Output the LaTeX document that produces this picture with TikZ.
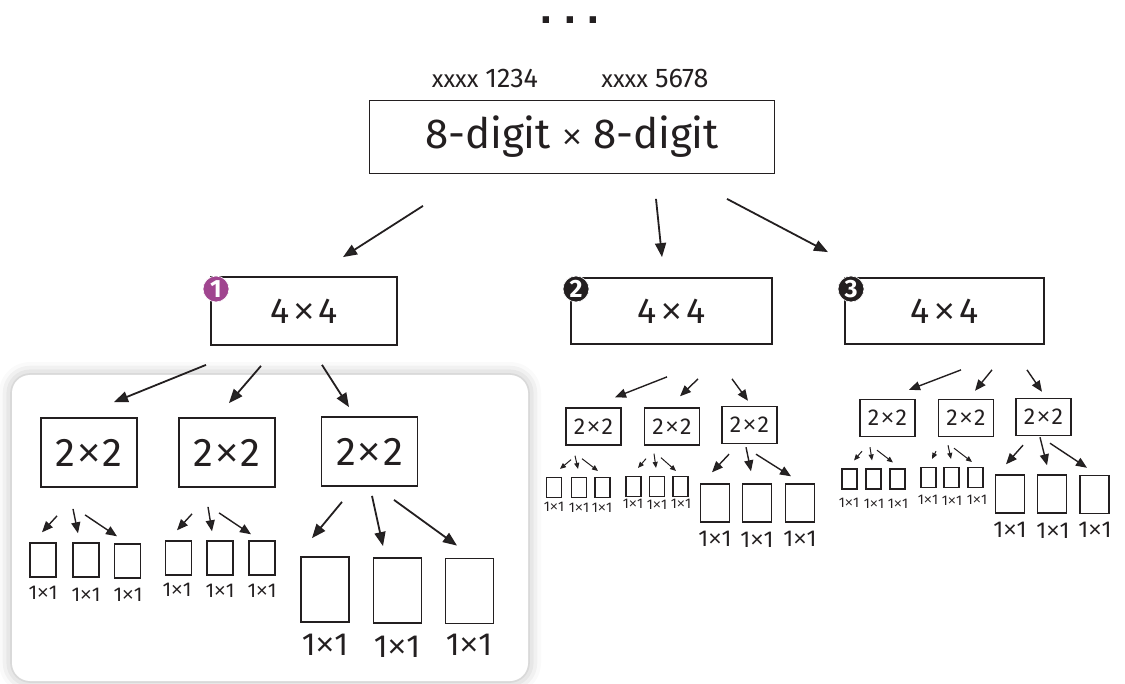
\documentclass[tikz,border=0pt]{standalone}
\usepackage{fontspec}
\setmainfont{Fira Sans}
\newfontfamily\dotfont{DejaVu Sans}
\newfontfamily\symfont{Liberation Sans}
\usetikzlibrary{arrows.meta,shadows.blur}
\definecolor{ink}{HTML}{231F20}
\definecolor{plum}{HTML}{A0458F}
\newcommand{\by}{{\symfont ×}}

\begin{document}
\begin{tikzpicture}
    [x=1pt,y=-1pt,color=ink,
     box/.style={draw, line width=1.8pt, inner sep=0pt},
     sbox/.style={draw, line width=1.4pt, inner sep=0pt},
     tbox/.style={draw, line width=1.1pt, inner sep=0pt},
     arr/.style={line width=1.8pt, -{Triangle[length=14pt,width=11pt]}},
     marr/.style={line width=1.4pt, -{Triangle[length=11pt,width=9pt]}},
     sarr/.style={line width=1pt, -{Triangle[length=6pt,width=5pt]}},
     badge/.style={circle, draw=white, line width=0.6pt, inner sep=0pt, minimum size=26pt, text=white, font=\bfseries\fontsize{25}{25}\selectfont}]
  \useasboundingbox (0,0) rectangle (1125,684);

  % panel behind the first sub-problem
  \fill[white, rounded corners=18pt, blur shadow={shadow xshift=0pt, shadow yshift=0pt, shadow blur radius=13pt, shadow opacity=30}] (12,375) rectangle (528,681);

  \node[anchor=base, inner sep=0pt, text height=8pt, text depth=0pt, font=\dotfont\bfseries\fontsize{36}{36}\selectfont] (dots) at (570,24) {.\hspace{10pt}.\hspace{10pt}.};
  \node[font=\fontsize{27}{27}\selectfont] (na) at (485,78) {{\fontsize{24}{24}\selectfont xxxx}\hspace{7pt}1234};
  \node[font=\fontsize{27}{27}\selectfont] (nb) at (655,78) {{\fontsize{24}{24}\selectfont xxxx}\hspace{7pt}5678};
  \node[box, minimum width=405pt, minimum height=73pt, font=\fontsize{42}{42}\selectfont] (top) at (572,137) {8-digit {\fontsize{34}{34}\selectfont\by} 8-digit};

  % 4x4
  \node[box, minimum width=186pt, minimum height=68pt, font=\fontsize{36}{36}\selectfont] (b1) at (304,311) {4\hspace{4pt}\by\hspace{4pt}4};
  \node[box, minimum width=201pt, minimum height=66pt, font=\fontsize{36}{36}\selectfont] (b2) at (671.5,311) {4\hspace{4pt}\by\hspace{4pt}4};
  \node[box, minimum width=199pt, minimum height=66pt, font=\fontsize{36}{36}\selectfont] (b3) at (944.5,311) {4\hspace{4pt}\by\hspace{4pt}4};
  \node[badge, fill=plum] (c1) at (216,289) {1};
  \node[badge, fill=ink] (c2) at (576,289) {2};
  \node[badge, fill=ink] (c3) at (851,289) {3};

  % 2x2
  \foreach \n/\x/\y in {L1/89/452.5, L2/227/452.5, L3/369.5/451.5}
    \node[box, minimum width=96pt, minimum height=69pt, font=\fontsize{40}{40}\selectfont] (\n) at (\x,\y) {2\hspace{2pt}\by\hspace{2pt}2};
  \foreach \n/\x/\y in {M1/593.5/426.5, M2/672/426.5, M3/749.5/425, R1/887.5/418, R2/966/418, R3/1043.5/417}
    \node[sbox, minimum width=55pt, minimum height=37pt, font=\fontsize{23}{23}\selectfont] (\n) at (\x,\y) {2\hspace{1.5pt}\by\hspace{1.5pt}2};

  % 1x1
  \foreach \n/\x/\y in {s11/43/560, s12/86/560, s13/127.5/561, s21/178.5/558, s22/220/558, s23/262/558}
    \node[sbox, minimum width=26pt, minimum height=34pt] (\n) at (\x,\y) {};
  \foreach \n/\x/\y in {s31/325/589.5, s32/397.5/590.5, s33/469.5/591}
    \node[box, minimum width=48pt, minimum height=65pt] (\n) at (\x,\y) {};
  \foreach \n/\x/\y in {m11/554/487.5, m12/579/487.5, m13/602.5/487.5, m21/633.5/486.5, m22/657/486.5, m23/680.5/486.5, r11/849.5/479, r12/873.5/479, r13/897.5/479, r21/928.5/477.5, r22/951.5/477.5, r23/975.5/477.5}
    \node[tbox, minimum width=15pt, minimum height=20pt] (\n) at (\x,\y) {};
  \foreach \n/\x/\y in {m31/715/503, m32/757/503, m33/800/503, r31/1010/494, r32/1052/494, r33/1094.5/494.5}
    \node[sbox, minimum width=29pt, minimum height=38pt] (\n) at (\x,\y) {};

  % labels under the 1x1 boxes
  \foreach \n/\x/\y in {t11/43/593, t12/86/595, t13/128/595, t21/177/590, t22/220/591, t23/262/591}
    \node[font=\fontsize{20}{20}\selectfont] (\n) at (\x,\y) {1\by1};
  \foreach \n/\x/\y in {t31/325/645, t32/397/647, t33/469/645}
    \node[font=\fontsize{32}{32}\selectfont] (\n) at (\x,\y) {1\by1};
  \foreach \n/\x/\y in {u11/554/507, u12/579/508, u13/602/508, u21/633/504, u22/657/505, u23/681/504, v11/849/503, v12/874/504, v13/898/504, v21/928/500, v22/952/501, v23/977/500}
    \node[font=\fontsize{14}{14}\selectfont] (\n) at (\x,\y) {1\by1};
  \foreach \n/\x/\y in {u31/715/539, u32/757/540, u33/800/539, v31/1010/530, v32/1053/531, v33/1095/530}
    \node[font=\fontsize{23}{23}\selectfont] (\n) at (\x,\y) {1\by1};

  % arrows: parent.south + shift  ->  child.north + shift
  \foreach \p/\c/\a/\b/\u/\v in {top/b1/-149/31.5/39/-19, top/b2/84/24.5/-9.5/-20, top/b3/155/24.5/-116.5/-25,
      b1/L1/-98/19/25/-15, b1/L2/-43/20/2/-14, b1/L3/18/19/-20.5/-9,
      L3/s31/-27.5/15/-13/-18, L3/s32/2.5/9/-14.5/-11, L3/s33/24.5/13/-12.5/-12}
    \draw[arr] ([shift={(\a,\b)}]\p.south) -- ([shift={(\u,\v)}]\c.north);
  \foreach \p/\c/\a/\b/\u/\v in {L1/s11/-32/28/-1/-10, L1/s12/-16/21/-8/-9, L1/s13/-4/27/-10.5/-7,
      L2/s21/-35/26/-1.5/-10, L2/s22/-19/19/-8/-9, L2/s23/-8/25/-11/-6,
      b2/M1/-4.5/32/21.5/-10, b2/M2/26.5/34/8/-11, b2/M3/60.5/34/-1.5/-5,
      b3/R1/16.5/25/21.5/-9, b3/R2/47.5/25/9/-8, b3/R3/82.5/25/-1.5/-6,
      M3/m31/-20.5/10/-3/-11, M3/m32/-3.5/3/-6/-12, M3/m33/6.5/10/-9/-7,
      R3/r31/-20.5/9/-4/-10, R3/r32/-3.5/1/-5/-9, R3/r33/6.5/7/-7.5/-7}
    \draw[marr] ([shift={(\a,\b)}]\p.south) -- ([shift={(\u,\v)}]\c.north);
  \foreach \p/\c/\a/\b/\u/\v in {M1/m11/-22.5/14/6/-8, M1/m12/-18.5/10/-1/-8, M1/m13/-11.5/13/-4.5/-6,
      M2/m21/-26/13/4.5/-8, M2/m22/-18/8/-1/-8, M2/m23/-11/12/-4.5/-5,
      R1/r11/-25.5/14/4.5/-8, R1/r12/-17.5/10/-1.5/-8, R1/r13/-10.5/13/-4.5/-6,
      R2/r21/-30/14/3.5/-8, R2/r22/-18/8/-0.5/-8, R2/r23/-12/11/-3.5/-5}
    \draw[sarr] ([shift={(\a,\b)}]\p.south) -- ([shift={(\u,\v)}]\c.north);
\end{tikzpicture}
\end{document}
